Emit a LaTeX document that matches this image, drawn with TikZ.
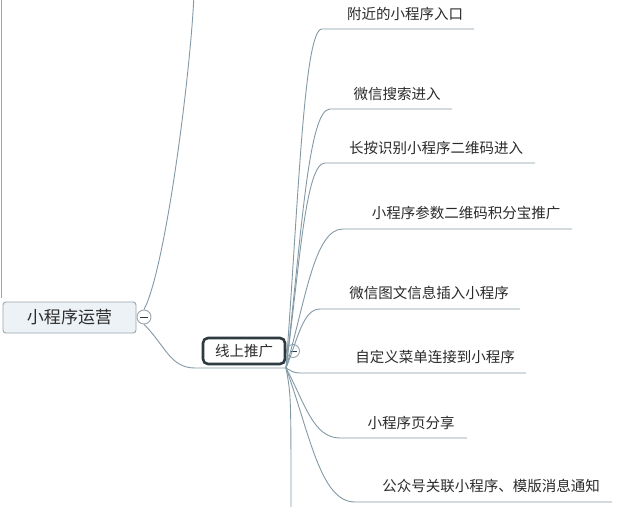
\documentclass[tikz,border=0pt]{standalone}
\usepackage{fontspec}
\newfontfamily\cjk{Noto Sans CJK SC}
\definecolor{linec}{HTML}{8499A6}
\definecolor{txt}{HTML}{2B2B2B}
\definecolor{rootfill}{HTML}{EDF2F7}
\definecolor{rootborder}{HTML}{9AA6AE}
\definecolor{darkb}{HTML}{2E3B41}
\begin{document}
\begin{tikzpicture}[x=1pt,y=-1pt,
  branch/.style={draw=linec, line width=0.9pt},
  leaf/.style={font=\cjk\fontsize{14.5}{16}\selectfont, text=txt, inner sep=0pt},
  rootbox/.style={draw=rootborder, fill=rootfill, rounded corners=3pt, line width=0.9pt,
    minimum width=133pt, minimum height=31pt, font=\cjk\fontsize{17}{19}\selectfont, text=txt},
  subbox/.style={draw=darkb, fill=white, rounded corners=5pt, line width=2.6pt,
    minimum width=82pt, minimum height=26pt, font=\cjk\fontsize{14.5}{16}\selectfont, text=txt},
  collapse/.style={circle, draw=rootborder, fill=white, line width=0.9pt, minimum size=14pt, inner sep=0pt}
]
\useasboundingbox (0,0) rectangle (634,506);
\fill[white] (0,0) rectangle (634,506);
% left edge line
\coordinate (lt) at (1,0);
\coordinate (lb) at (1,298);
\draw[draw=rootborder, line width=1pt] (lt) -- (lb);

% root
\node[collapse] (c1) at (144,317) {};
\draw[darkb, line width=0.8pt] ([xshift=-4pt]c1.center) -- ([xshift=4pt]c1.center);
\node[rootbox] (root) at (69.5,317.5) {小程序运营};

% connectors from root
\coordinate (top) at (194,-5);
\coordinate (hub) at (286,368);
\coordinate (bend) at (195,368);
\draw[branch] (c1.north) .. controls (165,270) and (190,80) .. (top);
\draw[branch] (c1.south) .. controls (165,345) and (170,368) .. (bend) -- (hub);

% sub node
\node[collapse, minimum size=13pt] (c2) at (293,351) {};
\draw[darkb, line width=0.8pt] ([xshift=-3.5pt]c2.center) -- ([xshift=3.5pt]c2.center);
\node[subbox] (sub) at (244,351) {线上推广};

% vertical line down
\coordinate (down) at (291,510);
\draw[branch] (hub) .. controls (291,395) .. (down);

% children
\foreach \xs/\xe/\yy/\tx/\ty/\t [count=\i] in {
  322/474/29/405/14/附近的小程序入口,
  330/452/109/397/94/微信搜索进入,
  325/535/163/436/148/长按识别小程序二维码进入,
  343/572/229/466/213/小程序参数二维码积分宝推广,
  320/520/309/429/293/微信图文信息插入小程序,
  300/526/373/435/357/自定义菜单连接到小程序,
  340/467/438/411/423/小程序页分享,
  355/612/502/491/486/公众号关联小程序、模版消息通知}
{
  \node[leaf] (l\i) at (\tx,\ty) {\t};
  \coordinate (s\i) at (\xs,\yy);
  \coordinate (e\i) at (\xe,\yy);
  \draw[branch] (hub) .. controls ({286+0.35*(\xs-286)},{(368+\yy)/2}) and ({\xs-0.5*(\xs-286)},\yy) .. (s\i) -- (e\i);
}
\end{tikzpicture}
\end{document}
